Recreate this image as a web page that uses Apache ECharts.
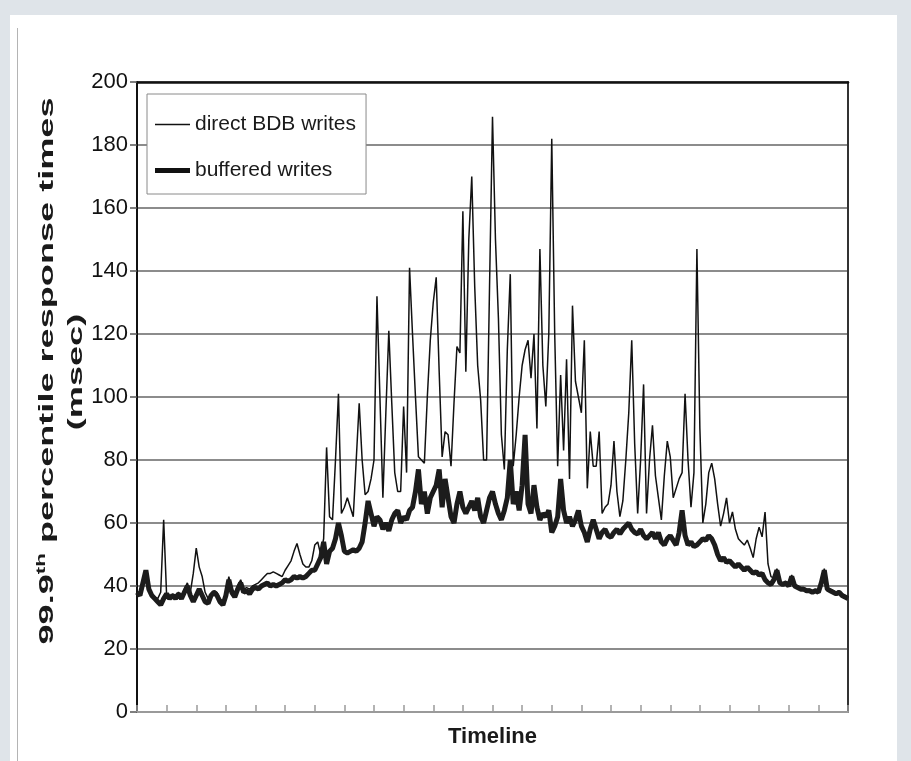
<!DOCTYPE html>
<html>
<head>
<meta charset="utf-8">
<script src="https://cdn.jsdelivr.net/npm/echarts@6/dist/echarts.min.js"></script>
<style>
  html, body { margin: 0; padding: 0; }
  body { width: 911px; height: 761px; background: #dfe4e9; overflow: hidden; position: relative; }
  #panel { position: absolute; left: 10px; top: 15px; width: 887px; height: 746px; background: #ffffff; }
  #vline { position: absolute; left: 17px; top: 28px; width: 1px; height: 733px; background: #b4b4b4; }
  #chart { position: absolute; left: 0; top: 0; width: 911px; height: 761px; }
</style>
</head>
<body>
<div id="panel"></div>
<div id="vline"></div>
<div id="chart"></div>
<script>
// ---- data ----
const seriesNames = ['direct BDB writes', 'buffered writes'];
const yTicks = { min: 0, max: 200, step: 20 };
const pointCount = 241;            // 24 tick intervals, 10 samples each
const tickEvery = 10;
const categories = Array.from({ length: pointCount }, (_, i) => String(i));

const directBDB = [
  38,37.5,41,45,39.5,37.5,36.5,36,38,61,
  37,36,37.5,37,38,37,39,41,38,44,
  52,46,43,38,36,37.5,38.5,38,36,35,
  38,43,39,38,40,42,39,39.5,39,40,
  40.5,41,42,43,44,44,44.5,44,43.5,43,
  45,46.5,48,51,53.5,50,47,46,46,48,
  53,54,50,55,84,62,61,80,101,63,
  65,68,65,62,80,98,80,69,70,74,
  80,132,100,68,95,121,98,76,70,70,
  97,76,141,120,100,81,80,79,100,118,
  130,138,108,81,89,88,78,98,116,114,
  159,108,150,170,135,110,99,80,80,135,
  189,150,125,88,77,115,139,78,88,100,
  110,115,118,106,120,90,147,110,97,120,
  182,120,78,107,83,112,74,129,105,100,
  95,118,71,89,78,78,89,63,65,66,
  72,86,70,62,67,80,95,118,85,63,
  80,104,63,80,91,75,68,61,75,86,
  81,68,71,74,76,101,80,65,76,147,
  90,60,66,76,79,74,66,59,63,68,
  60,63.5,58,55,54,53,54.6,52,49,55,
  58.7,55.6,63.5,47,43,42.5,45.5,41.5,41,41.5,
  40.5,43.5,40.5,40,39.5,39.5,39,39,38.5,39,
  38.5,41.5,45.5,39.5,39,38.5,38,38.5,37.5,37,
  36.5
];

const buffered = [
  38,37,41,45,39,37,36,35,34,36,
  37.5,36,37,36,37.5,36,38,40,37,35,
  37,39,37,35,34.5,37,38,37,35,34,
  37,42,38,36.5,39,41,38,38.5,37.5,39,
  39.5,39,40,40.5,41,40,40.5,40,40.5,41,
  42,41.5,42,43,42.5,43,42.5,43,44,45,
  45,47,49,54,47,51,52,55,60,56,
  51,50.5,51,51.5,51,52,54,60,67,63,
  59,62,61,58,60,57.5,61,63,64,60,
  62,61,64,65,70,77,66,70,63,68,
  70,72,77,65,74,68,62,60,66,70,
  65,63,65,67,64,68,62,60,64,68,
  70,66,63,61,64,68,80,66,70,64,
  72,88,66,63,72,65,61,63,62,64,
  57,59,62,74,64,60,62,59,61,64,
  59,57,54,58,61,58,55,57,58,56,
  55.5,57,58,56.5,58,59,60,58,57,56.5,
  58,56,55,56,57,55,57,54,53,55,
  56,54.5,53,57,64,56,53,54,52.5,53,
  54,55,54.5,56,55,53,50,48,49,47.5,
  48,47,46,47,46,45,46,45,44,44.5,
  43.5,44,42,41,40.5,42,45,41,40.5,41,
  40,43,40,39.5,39,39,38.5,38.5,38,38.5,
  38,41,45,39,38.5,38,37.5,38,37,36.5,
  36
];

// ---- chart ----
const sans = '"Liberation Sans", Arial, sans-serif';

const chart = echarts.init(document.getElementById('chart'), null, { renderer: 'canvas' });

const option = {
  animation: false,
  backgroundColor: 'transparent',
  grid: { left: 137, right: 63, top: 82, bottom: 49, show: false },
  legend: {
    data: [
      { name: seriesNames[0], icon: 'path://M0,0H35V1.6H0Z' },
      { name: seriesNames[1], icon: 'path://M0,0H35V5H0Z' }
    ],
    orient: 'vertical',
    left: 147,
    top: 94,
    itemWidth: 35,
    itemHeight: 14,
    itemGap: 25,
    padding: [20, 10, 13, 8],
    backgroundColor: '#ffffff',
    borderColor: '#8a8a8a',
    borderWidth: 1,
    itemStyle: { color: '#111' },
    textStyle: { fontFamily: sans, fontSize: 21, color: '#1a1a1a' }
  },
  xAxis: [
    {
      type: 'category',
      data: categories,
      boundaryGap: false,
      axisLine: { onZero: false, lineStyle: { color: '#9a9a9a', width: 2 } },
      axisTick: { inside: true, length: 7, interval: tickEvery - 1, lineStyle: { color: '#9a9a9a', width: 1.5 } },
      axisLabel: { show: false },
      splitLine: { show: false },
      name: 'Timeline',
      nameLocation: 'middle',
      nameGap: 14,
      nameTextStyle: { fontFamily: sans, fontWeight: 'bold', fontSize: 22, color: '#1a1a1a' }
    },
    {
      type: 'category',
      position: 'top',
      data: categories,
      boundaryGap: false,
      axisLine: { onZero: false, lineStyle: { color: '#111', width: 2.5 } },
      axisTick: { show: false },
      axisLabel: { show: false },
      splitLine: { show: false }
    }
  ],
  yAxis: [
    {
      type: 'value',
      min: yTicks.min,
      max: yTicks.max,
      interval: yTicks.step,
      axisLine: { show: true, onZero: false, lineStyle: { color: '#111', width: 2 } },
      axisTick: { show: true, length: 7, lineStyle: { color: '#555', width: 1.5 } },
      axisLabel: { margin: 9, fontFamily: sans, fontSize: 22, color: '#111' },
      splitLine: { show: true, lineStyle: { color: '#8c8c8c', width: 2 } }
    },
    {
      type: 'value',
      position: 'right',
      min: yTicks.min,
      max: yTicks.max,
      interval: yTicks.step,
      axisLine: { show: true, onZero: false, lineStyle: { color: '#333', width: 2 } },
      axisTick: { show: false },
      axisLabel: { show: false },
      splitLine: { show: false }
    }
  ],
  graphic: [
    {
      type: 'text',
      x: 47,
      y: 371,
      rotation: Math.PI / 2,
      scaleX: 1.72,
      style: {
        text: '{a|99.9}{s|th}{a| percentile response times}',
        align: 'center',
        verticalAlign: 'middle',
        rich: {
          a: { fontSize: 21, fontWeight: 'bold', fontFamily: sans, fill: '#1a1a1a', lineHeight: 24 },
          s: { fontSize: 13, fontWeight: 'bold', fontFamily: sans, fill: '#1a1a1a', verticalAlign: 'top', lineHeight: 13 }
        }
      }
    },
    {
      type: 'text',
      x: 76,
      y: 372,
      rotation: Math.PI / 2,
      scaleX: 1.72,
      style: {
        text: '(msec)',
        align: 'center',
        verticalAlign: 'middle',
        fontSize: 21,
        fontWeight: 'bold',
        fontFamily: sans,
        fill: '#1a1a1a'
      }
    }
  ],
  series: [
    {
      name: seriesNames[0],
      type: 'line',
      data: directBDB,
      symbol: 'none',
      lineStyle: { color: '#111', width: 1.5 },
      itemStyle: { color: '#111' }
    },
    {
      name: seriesNames[1],
      type: 'line',
      data: buffered,
      symbol: 'none',
      lineStyle: { color: '#1c1c1c', width: 5 },
      itemStyle: { color: '#1c1c1c' }
    }
  ]
};

chart.setOption(option);
</script>
</body>
</html>
